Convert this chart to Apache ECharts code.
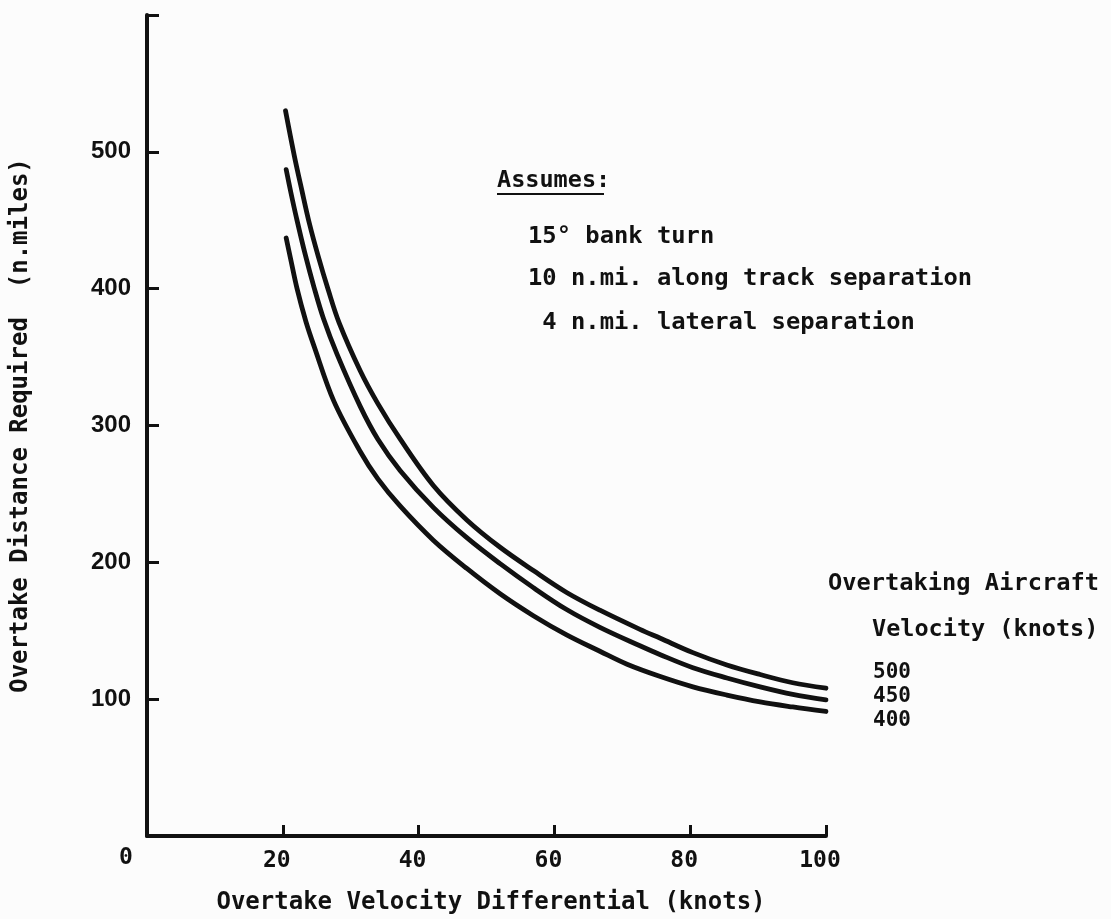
<!DOCTYPE html>
<html>
<head>
<meta charset="utf-8">
<script src="https://cdn.jsdelivr.net/npm/echarts@6/dist/echarts.min.js"></script>
<style>
  html, body { margin: 0; padding: 0; background: #fcfcfc; }
  #chart { width: 1111px; height: 919px; }
</style>
</head>
<body>
<div id="chart"></div>
<script>
  // overtake velocity differential (knots) / distance (n.miles)
  var diff500 = [20.4, 21.7, 22.8, 23.9, 25.2, 26.7, 28.3, 31.4, 34.0, 37.3, 42.2, 47.1, 52.0, 56.9, 61.8, 66.7, 72.6, 75.6, 80.4, 85.4, 90.3, 95.1, 100];
  var dist500 = [530, 497, 472, 448, 424, 399, 375, 340, 316, 290, 256, 231, 211, 194, 178, 165, 151, 144.5, 134, 125, 118, 112, 108];

  var diff450 = [20.5, 21.2, 22.0, 23.3, 24.6, 26.0, 28.0, 31.4, 34.0, 37.3, 42.2, 47.1, 52.0, 56.9, 61.8, 66.7, 72.6, 75.6, 80.4, 85.4, 90.3, 95.1, 100];
  var dist450 = [487, 470, 452, 425, 401, 378, 352, 314, 290, 267, 240, 218, 199, 181.5, 165.5, 152.5, 139, 132.5, 123, 115.5, 109, 103.5, 99.5];

  var diff400 = [20.5, 21.1, 22.1, 23.4, 24.6, 27.5, 31.4, 34.0, 37.3, 42.2, 47.1, 52.0, 56.9, 61.8, 66.7, 70.7, 75.6, 80.4, 85.4, 90.3, 95.1, 100];
  var dist400 = [437, 423, 400, 376, 358, 318, 281, 261, 241, 216, 195.5, 177, 161, 147, 135, 125.5, 116.5, 109, 103, 98, 94.3, 91];

  var yTickLabels = ['100', '200', '300', '400', '500'];
  var xTickLabels = ['20', '40', '60', '80', '100'];
  var legendLabels = ['500', '450', '400'];

  function zip(xs, ys) {
    return xs.map(function (x, i) { return [x, ys[i]]; });
  }

  var mono = '"DejaVu Sans Mono", monospace';
  var ink = '#111';

  var myChart = echarts.init(document.getElementById('chart'));

  function curve(name, xs, ys) {
    return {
      name: name,
      type: 'line',
      data: zip(xs, ys),
      smooth: 0.35,
      showSymbol: false,
      symbol: 'none',
      lineStyle: { color: ink, width: 4.8, cap: 'round', join: 'round' },
      silent: true
    };
  }

  myChart.setOption({
    backgroundColor: '#fcfcfc',
    animation: false,
    grid: { left: 147, top: 15, right: 285, bottom: 83 },
    xAxis: {
      type: 'value',
      min: 0, max: 100, interval: 20,
      axisLine: { lineStyle: { color: ink, width: 4 } },
      axisTick: { inside: true, length: 11, lineStyle: { color: ink, width: 3 } },
      splitLine: { show: false },
      axisLabel: {
        margin: 14,
        padding: [0, 12, 0, 0],
        color: ink, fontFamily: mono, fontWeight: 'bold', fontSize: 23,
        formatter: function (v) { return xTickLabels.indexOf(String(v)) >= 0 ? String(v) : ''; }
      }
    },
    yAxis: {
      type: 'value',
      min: 0, max: 600, interval: 100,
      name: 'Overtake Distance Required  (n.miles)',
      nameLocation: 'middle',
      nameGap: 114,
      nameTextStyle: { color: ink, fontFamily: mono, fontWeight: 'bold', fontSize: 24 },
      axisLine: { lineStyle: { color: ink, width: 4 } },
      axisTick: { inside: true, length: 12, lineStyle: { color: ink, width: 3 } },
      splitLine: { show: false },
      axisLabel: {
        margin: 16,
        color: ink, fontFamily: '"Liberation Sans", Arial, sans-serif', fontWeight: 'bold', fontSize: 24,
        formatter: function (v) { return yTickLabels.indexOf(String(v)) >= 0 ? String(v) : ''; }
      }
    },
    graphic: [
      { type: 'text', left: 119, top: 847, style: { text: '0', fill: ink, font: 'bold 23px ' + mono } },
      { type: 'text', x: 491, y: 903, style: { text: 'Overtake Velocity Differential (knots)', fill: ink, font: 'bold 24px ' + mono, textAlign: 'center', textVerticalAlign: 'middle' } },
      { type: 'text', x: 497, y: 181, style: { text: 'Assumes:', fill: ink, font: 'bold 23.5px ' + mono, textVerticalAlign: 'middle' } },
      { type: 'line', shape: { x1: 497, y1: 194, x2: 604, y2: 194 }, style: { stroke: ink, lineWidth: 2 } },
      { type: 'text', x: 528, y: 237, style: { text: '15\u00b0 bank turn', fill: ink, font: 'bold 23.8px ' + mono, textVerticalAlign: 'middle' } },
      { type: 'text', x: 528, y: 279, style: { text: '10 n.mi. along track separation', fill: ink, font: 'bold 23.8px ' + mono, textVerticalAlign: 'middle' } },
      { type: 'text', x: 528, y: 323, style: { text: ' 4 n.mi. lateral separation', fill: ink, font: 'bold 23.8px ' + mono, textVerticalAlign: 'middle' } },
      { type: 'text', x: 828, y: 584, style: { text: 'Overtaking Aircraft', fill: ink, font: 'bold 23.7px ' + mono, textVerticalAlign: 'middle' } },
      { type: 'text', x: 872, y: 630, style: { text: 'Velocity (knots)', fill: ink, font: 'bold 23.5px ' + mono, textVerticalAlign: 'middle' } },
      { type: 'text', x: 873, y: 661, style: { text: legendLabels.join('\n'), fill: ink, font: 'bold 21px ' + mono, lineHeight: 24 } }
    ],
    series: [
      curve('500', diff500, dist500),
      curve('450', diff450, dist450),
      curve('400', diff400, dist400)
    ]
  });
</script>
</body>
</html>
